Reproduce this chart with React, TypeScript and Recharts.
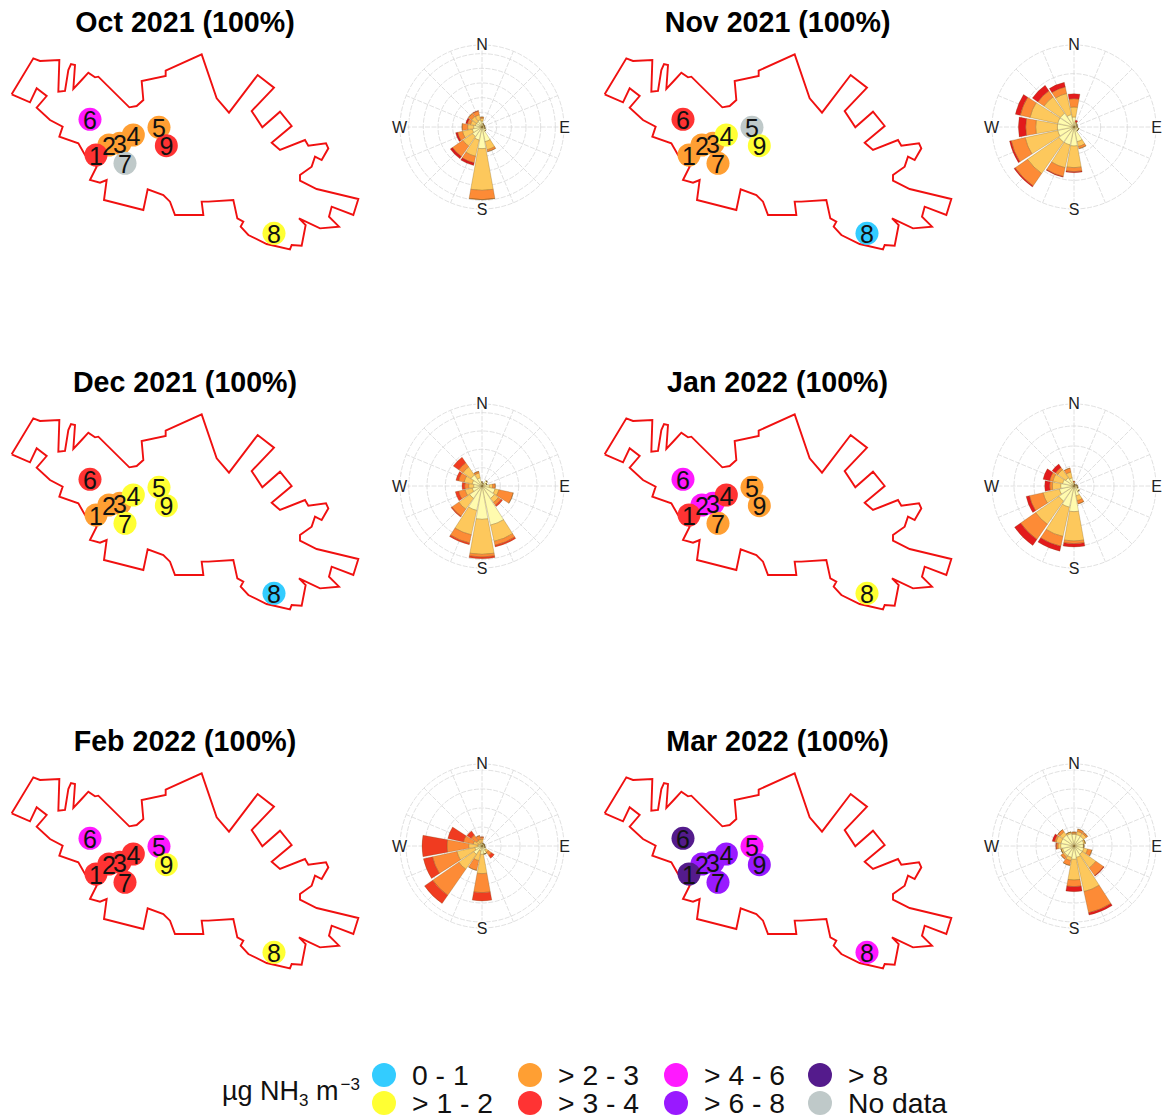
import React from 'react';
import { ScatterChart, Scatter, XAxis, YAxis, RadialBarChart, RadialBar, PolarGrid, PolarAngleAxis, PolarRadiusAxis } from 'recharts';

const FONT = '"Liberation Sans", Arial, sans-serif';

const directions = ['N','NNE','NE','ENE','E','ESE','SE','SSE','S','SSW','SW','WSW','W','WNW','NW','NNW'];
const compassLabels = ['N','E','S','W'];
const spokeAngles = [0,22.5,45,67.5,90,112.5,135,157.5,180,202.5,225,247.5,270,292.5,315,337.5];

const binNames = ['0 - 1','> 1 - 2','> 2 - 3','> 3 - 4','> 4 - 6','> 6 - 8','> 8','No data'];
const binColors = ['#33CCFF','#FFFF33','#FF9F33','#FF3333','#FF19FF','#9919FF','#541B8C','#BFC9C9'];
const LOW = 0, Y = 1, O = 2, R = 3, M = 4, P = 5, D = 6, NA = 7;

// site labels and locations in map units
const siteIds = [2,3,4,7,1,5,9,6,8];
const siteX: Record<number, number> = {1:288,2:327,3:360,4:400,5:477,6:270,7:375,8:822,9:499};
const siteY: Record<number, number> = {1:465,2:435,3:430,4:405,5:382,6:358,7:490,8:700,9:437};

const boundaryX = [35,100,120,178,175,195,205,213,225,220,245,265,285,295,388,410,430,425,497,497,605,650,687,773,822,755,787,840,875,815,840,915,925,978,985,965,945,935,900,900,950,1075,1060,995,987,1017,960,897,917,905,875,870,800,745,722,730,712,700,625,605,610,525,510,490,443,430,312,320,300,270,290,255,235,178,188,150,110,140,110,90,35];
const boundaryY = [283,175,183,180,275,273,210,192,195,267,240,218,232,230,322,318,300,243,228,212,163,295,338,225,263,333,382,335,378,428,450,420,437,430,445,480,470,500,525,542,567,597,645,620,650,680,685,655,675,737,735,748,732,705,680,665,655,600,605,605,645,645,605,585,568,630,600,540,548,540,500,465,430,410,380,360,323,288,265,307,283];

// site bin index for sites 1..9
const octSites = [R,O,O,O,O,M,NA,Y,R];
const novSites = [O,O,O,Y,NA,R,O,LOW,Y];
const decSites = [O,O,O,Y,Y,R,Y,LOW,Y];
const janSites = [R,M,M,R,O,M,O,Y,O];
const febSites = [R,R,R,R,M,M,R,Y,Y];
const marSites = [D,P,P,P,M,D,P,M,P];

// wind rose: per direction (N clockwise), frequency in four rising speed classes
const octRose = [[18,8,4,0],[10,0,0,0],[8,0,0,0],[8,0,0,0],[8,0,0,0],[10,0,0,0],[15,0,0,0],[45,25,6,0],[65,125,28,0],[40,50,20,8],[35,35,38,8],[30,30,15,6],[25,18,17,0],[20,15,10,5],[20,18,12,0],[22,15,12,2]];
const novRose = [[30,30,25,15],[12,4,0,5],[12,0,0,0],[10,0,0,0],[10,0,0,0],[15,0,0,0],[15,0,0,0],[45,15,7,0],[57,65,12,3],[55,70,27,2],[55,115,45,4],[50,100,43,5],[50,65,30,22],[50,85,30,15],[50,60,22,20],[38,65,20,14]];
const decRose = [[12,0,0,0],[8,0,0,0],[20,0,0,0],[15,0,0,0],[22,10,8,0],[40,12,44,0],[45,15,10,5],[120,50,12,5],[100,105,8,5],[75,75,25,5],[45,40,25,3],[30,22,20,10],[25,15,12,8],[30,25,17,8],[40,30,15,20],[25,15,5,0]];
const janRose = [[8,3,3,1],[5,0,0,0],[5,0,0,0],[8,0,0,0],[10,0,0,0],[12,0,0,0],[20,0,0,0],[30,15,10,0],[77,88,8,10],[65,90,30,15],[55,85,55,22],[45,50,42,10],[40,25,8,15],[35,30,10,20],[30,30,8,12],[25,18,12,0]];
const febRose = [[8,12,6,2],[8,0,0,0],[8,0,0,0],[8,0,0,0],[8,0,0,0],[10,0,0,0],[15,8,12,10],[25,0,0,0],[25,58,57,25],[15,30,30,0],[30,55,95,30],[22,55,75,28],[12,28,65,75],[12,15,30,48],[8,12,20,15],[10,10,12,0]];
const marRose = [[35,3,4,0],[35,10,7,0],[35,10,5,0],[30,5,0,0],[28,2,0,0],[30,12,13,0],[30,50,28,2],[35,105,65,7],[40,62,20,15],[35,10,15,0],[35,5,8,0],[35,5,0,0],[40,8,5,2],[40,15,5,7],[40,12,8,0],[38,5,0,0]];

const speedColors = ['#FFFBAE','#FDC85C','#FD8B36'];

const panels = [
  { title: 'Oct 2021 (100%)', sites: octSites, rose: octRose, ringStep: 44, tip: '#D7191C', col: 0, row: 0 },
  { title: 'Nov 2021 (100%)', sites: novSites, rose: novRose, ringStep: 80, tip: '#E31A1C', col: 1, row: 0 },
  { title: 'Dec 2021 (100%)', sites: decSites, rose: decRose, ringStep: 55, tip: '#F03B20', col: 0, row: 1 },
  { title: 'Jan 2022 (100%)', sites: janSites, rose: janRose, ringStep: 60, tip: '#E31A1C', col: 1, row: 1 },
  { title: 'Feb 2022 (100%)', sites: febSites, rose: febRose, ringStep: 57, tip: '#F03B20', col: 0, row: 2 },
  { title: 'Mar 2022 (100%)', sites: marSites, rose: marRose, ringStep: 57, tip: '#E31A1C', col: 1, row: 2 },
];

const COL_DX = 592.6;
const ROW_DY = 359.5;
const ROSE_MAX = 246;
const ROSE_R = 82;
const ROSE_C = 95;
const BAND_SHIFT = 11.25; // half a direction sector: bars start at their tick, so the chart is turned to centre them

const boundary = boundaryX.map((x, i) => ({ x, y: boundaryY[i] }));

const Dot = (p: any) => <circle cx={p.cx} cy={p.cy} r={11.5} fill={p.payload.color} />;
const DigitLabel = (p: any) => (
  <text x={p.cx} y={p.cy + 0.5} textAnchor="middle" dominantBaseline="central" fontFamily={FONT} fontSize={25} fill="#111">{p.payload.id}</text>
);
const NoDot = () => <g />;

function MapChart({ sites }: { sites: number[] }) {
  const data = siteIds.map((id) => ({ id, x: siteX[id], y: siteY[id], color: binColors[sites[id - 1]] }));
  return (
    <ScatterChart width={380} height={260} margin={{ top: 0, right: 0, bottom: 0, left: 0 }}>
      <XAxis type="number" dataKey="x" domain={[0, 1140]} hide />
      <YAxis type="number" dataKey="y" domain={[0, 780]} reversed hide />
      <Scatter data={boundary} isAnimationActive={false} shape={NoDot} line={{ stroke: '#F01010', strokeWidth: 1.9 }} lineType="joint" />
      <Scatter data={data} isAnimationActive={false} shape={Dot} />
      <Scatter data={data} isAnimationActive={false} shape={DigitLabel} />
    </ScatterChart>
  );
}

const CompassTick = (p: any) => {
  if (!compassLabels.includes(p.payload.value)) return <g />;
  const dx = p.x - ROSE_C;
  const dy = p.y - ROSE_C;
  const t = (BAND_SHIFT * Math.PI) / 180;
  const k = (ROSE_R + 0.5) / Math.max(1, Math.hypot(dx, dy));
  const rx = (dx * Math.cos(t) + dy * Math.sin(t)) * k;
  const ry = (-dx * Math.sin(t) + dy * Math.cos(t)) * k;
  return (
    <text x={ROSE_C + rx} y={ROSE_C + ry} textAnchor="middle" dominantBaseline="central" fontFamily={FONT} fontSize={16} fill="#222" stroke="#fff" strokeWidth={3} paintOrder="stroke">{p.payload.value}</text>
  );
};

function RoseChart({ rose, ringStep, tip }: { rose: number[][]; ringStep: number; tip: string }) {
  const data = directions.map((dir, i) => ({ dir, a: rose[i][0], b: rose[i][1], c: rose[i][2], d: rose[i][3] }));
  const rings: number[] = [];
  for (let v = ringStep; v < ROSE_MAX - 10; v += ringStep) rings.push((v / ROSE_MAX) * ROSE_R);
  rings.push(ROSE_R);
  const colors = [...speedColors, tip];
  return (
    <RadialBarChart width={190} height={190} data={data} layout="centric" cx={ROSE_C} cy={ROSE_C} innerRadius={0} outerRadius={ROSE_R}
      startAngle={90 - BAND_SHIFT} endAngle={-270 - BAND_SHIFT} barSize={20.5} margin={{ top: 0, right: 0, bottom: 0, left: 0 }}>
      <PolarGrid gridType="circle" polarRadius={rings} polarAngles={spokeAngles} stroke="#d8d8d8" strokeWidth={0.8} strokeDasharray="5 1.5" />
      <PolarAngleAxis type="category" dataKey="dir" tick={CompassTick} tickLine={false} axisLine={false} tickSize={0} />
      <PolarRadiusAxis type="number" domain={[0, ROSE_MAX]} tick={false} axisLine={false} tickLine={false} />
      {['a','b','c','d'].map((k, i) => (
        <RadialBar key={k} dataKey={k} stackId="speed" fill={colors[i]} stroke="#6b4a10" strokeWidth={0.25} isAnimationActive={false} />
      ))}
    </RadialBarChart>
  );
}

const abs = (left: number, top: number, extra: React.CSSProperties = {}): React.CSSProperties => ({ position: 'absolute', left, top, ...extra });

export default function App() {
  const legendCols = [384, 530, 676, 820];
  const legendRows = [1075, 1103];
  return (
    <div style={{ position: 'absolute', left: 0, top: 0, width: 1167, height: 1120, overflow: 'hidden', background: '#fff', fontFamily: FONT }}>
      {panels.map((p) => {
        const dx = p.col * COL_DX;
        const dy = p.row * ROW_DY;
        return (
          <React.Fragment key={p.title}>
            <div style={abs(dx, dy)}><MapChart sites={p.sites} /></div>
            <div style={abs(481.7 + dx - ROSE_C, 126.5 + dy - ROSE_C)}><RoseChart rose={p.rose} ringStep={p.ringStep} tip={p.tip} /></div>
            <div style={abs(dx, dy + 6, { width: 370, textAlign: 'center', fontWeight: 700, fontSize: 28.6, lineHeight: '32px', color: '#000', whiteSpace: 'nowrap' })}>{p.title}</div>
          </React.Fragment>
        );
      })}
      <div style={abs(222, 1076, { fontSize: 27, lineHeight: '30px', color: '#111', whiteSpace: 'nowrap' })}>
        µg NH<sub style={{ fontSize: 17, lineHeight: 0 }}>3</sub> m<sup style={{ fontSize: 17, lineHeight: 0, marginLeft: 2 }}>−3</sup>
      </div>
      {binNames.map((name, i) => {
        const cx = legendCols[Math.floor(i / 2)];
        const cy = legendRows[i % 2];
        return (
          <React.Fragment key={name}>
            <div style={abs(cx - 12, cy - 12, { width: 24, height: 24, borderRadius: 12, background: binColors[i] })} />
            <div style={abs(cx + 28, cy - 16, { fontSize: 28.3, lineHeight: '32px', color: '#111', whiteSpace: 'nowrap' })}>{name}</div>
          </React.Fragment>
        );
      })}
    </div>
  );
}
